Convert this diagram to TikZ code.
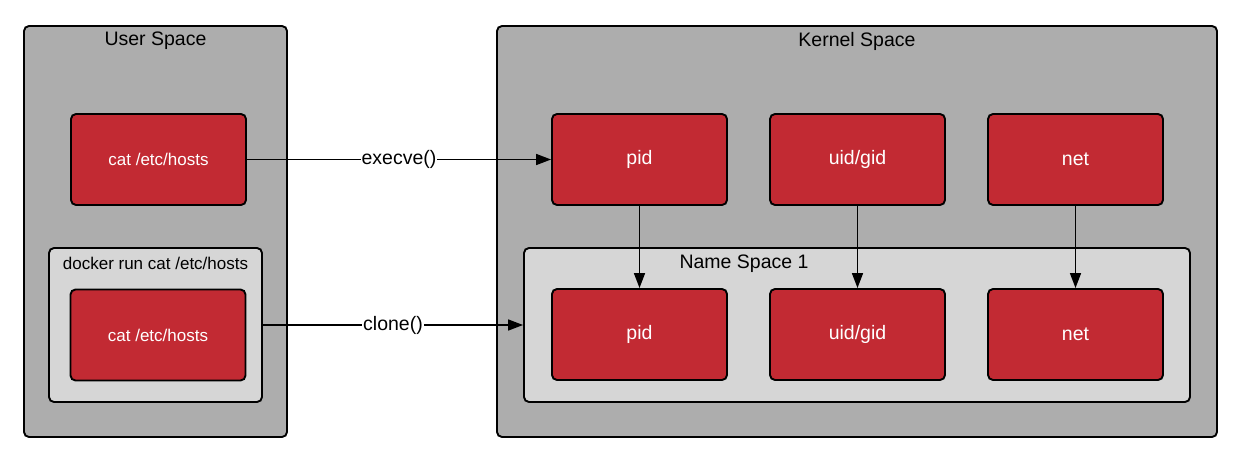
\documentclass[tikz,border=0pt]{standalone}
\usepackage{fontspec}
\setmainfont{Liberation Sans}
\usetikzlibrary{arrows.meta}
\definecolor{spacegray}{HTML}{ADADAD}
\definecolor{nsgray}{HTML}{D6D6D6}
\definecolor{nsred}{HTML}{C22A33}
\begin{document}
\begin{tikzpicture}[x=1pt,y=-1pt,
    space/.style={draw=black, line width=1.9pt, rounded corners=5pt, fill=spacegray, inner sep=0pt},
    group/.style={draw=black, line width=1.9pt, rounded corners=5pt, fill=nsgray, inner sep=0pt},
    item/.style={draw=black, line width=1.9pt, rounded corners=5pt, fill=nsred, text=white,
        minimum width=175pt, minimum height=91pt, inner sep=0pt},
    title/.style={font=\fontsize{19.5}{21}\selectfont},
    small/.style={font=\fontsize{17}{19}\selectfont},
    conn/.style={line width=1.6pt, -{Triangle[length=15pt,width=11pt]}},
    lbl/.style={fill=white, inner sep=1pt, font=\fontsize{19.5}{21}\selectfont}]
                \useasboundingbox (0,0) rectangle (1244,460);
                \fill[white] (0,0) rectangle (1244,460);
                % outer spaces
                \node[space, minimum width=263pt, minimum height=411pt] (user) at (155.5,231.5) {};
                \node[space, minimum width=720pt, minimum height=411pt] (kernel) at (857,231.5) {};
                \node[title] (usert) at (155.5,41) {User Space};
                \node[title] (kernelt) at (857,41) {Kernel Space};
                % inner groups
                \node[group, minimum width=213pt, minimum height=154pt] (docker) at (155.5,325) {};
                \node[group, minimum width=666pt, minimum height=154pt] (ns) at (857,325) {};
                \node[small] (dockert) at (155.5,263) {docker run cat /etc/hosts};
                \node[title] (nst) at (744,264) {Name Space 1};
                % processes
                \node[item, small] (cat) at (158.5,159.5) {cat /etc/hosts};
                \node[item, small] (catd) at (158,335) {cat /etc/hosts};
                % kernel resources
                \node[item, title] (pidk) at (639.5,159.5) {pid};
                \node[item, title] (uidk) at (857.5,159.5) {uid/gid};
                \node[item, title] (netk) at (1075.5,159.5) {net};
                \node[item, title] (pidn) at (639.5,334.5) {pid};
                \node[item, title] (uidn) at (857.5,334.5) {uid/gid};
                \node[item, title] (netn) at (1075.5,334.5) {net};
                % calls
                \draw[conn] (cat.east) -- node[lbl] {execve()} (pidk.west);
                \draw[conn] (docker.east) -- node[lbl] {clone()} (ns.west);
                \draw[conn] (pidk.south) -- (pidn.north);
                \draw[conn] (uidk.south) -- (uidn.north);
                \draw[conn] (netk.south) -- (netn.north);
\end{tikzpicture}
\end{document}
